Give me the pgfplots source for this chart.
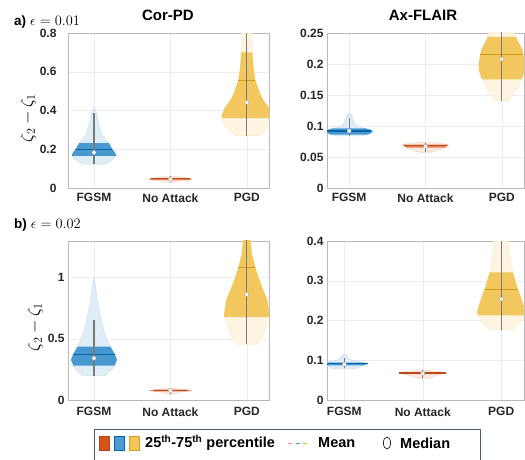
\documentclass[border=0pt]{standalone}
\usepackage{pgfplots}
\pgfplotsset{compat=1.18}
\usepackage{pgfplotstable}
\usepackage{fontspec}
\setmainfont{Liberation Sans}

\definecolor{cBlue}{HTML}{0072BD}
\definecolor{cOrange}{HTML}{D95319}
\definecolor{cYellow}{HTML}{EDB120}
\definecolor{Whisk}{HTML}{7A7A7A}
\definecolor{TickTxt}{HTML}{262626}
\definecolor{LegEdge}{HTML}{4A5A70}

% violin outlines as closed loops: y and offset d from the category centre
% (up the right side, down the left side)
\pgfplotstableread{
y d
0.123 0.15
0.140 0.22
0.160 0.28
0.166 0.285
0.171 0.29
0.185 0.27
0.200 0.24
0.231 0.196
0.255 0.14
0.283 0.096
0.334 0.061
0.385 0.035
0.420 0
0.385 -0.035
0.334 -0.061
0.283 -0.096
0.255 -0.14
0.231 -0.196
0.200 -0.24
0.185 -0.27
0.171 -0.29
0.166 -0.285
0.160 -0.28
0.140 -0.22
0.123 -0.15
0.123 0.15
}\aFgsm
\pgfplotstableread{
y d
0.026 0
0.035 0.12
0.040 0.22
0.043 0.28
0.050 0.25
0.058 0.12
0.063 0
0.058 -0.12
0.050 -0.25
0.043 -0.28
0.040 -0.22
0.035 -0.12
0.026 0
}\aNone
\pgfplotstableread{
y d
0.269 0.16
0.290 0.22
0.317 0.27
0.340 0.31
0.360 0.324
0.368 0.33
0.395 0.31
0.420 0.28
0.450 0.22
0.490 0.17
0.557 0.11
0.625 0.087
0.690 0.074
0.700 0.073
0.760 0.068
0.850 0.065
0.850 -0.065
0.760 -0.068
0.700 -0.073
0.690 -0.074
0.625 -0.087
0.557 -0.11
0.490 -0.17
0.450 -0.22
0.420 -0.28
0.395 -0.31
0.368 -0.33
0.360 -0.324
0.340 -0.31
0.317 -0.27
0.290 -0.22
0.269 -0.16
0.269 0.16
}\aPgd
\pgfplotstableread{
y d
0.084 0.17
0.086 0.23
0.087 0.26
0.091 0.31
0.094 0.28
0.096 0.213
0.097 0.18
0.100 0.10
0.105 0.065
0.110 0.05
0.116 0.04
0.121 0
0.116 -0.04
0.110 -0.05
0.105 -0.065
0.100 -0.10
0.097 -0.18
0.096 -0.213
0.094 -0.28
0.091 -0.31
0.087 -0.26
0.086 -0.23
0.084 -0.17
0.084 0.17
}\cFgsm
\pgfplotstableread{
y d
0.057 0.06
0.060 0.15
0.064 0.24
0.065 0.251
0.0696 0.30
0.070 0.287
0.072 0.22
0.0744 0
0.072 -0.22
0.070 -0.287
0.0696 -0.30
0.065 -0.251
0.064 -0.24
0.060 -0.15
0.057 -0.06
0.057 0.06
}\cNone
\pgfplotstableread{
y d
0.140 0.087
0.150 0.14
0.159 0.19
0.175 0.26
0.190 0.30
0.199 0.305
0.210 0.29
0.223 0.27
0.239 0.20
0.2436 0.1875
0.250 0.17
0.260 0.13
0.260 -0.13
0.250 -0.17
0.2436 -0.1875
0.239 -0.20
0.223 -0.27
0.210 -0.29
0.199 -0.305
0.190 -0.30
0.175 -0.26
0.159 -0.19
0.150 -0.14
0.140 -0.087
0.140 0.087
}\cPgd
\pgfplotstableread{
y d
0.20 0.15
0.268 0.26
0.281 0.269
0.328 0.30
0.377 0.27
0.43 0.22
0.437 0.215
0.54 0.14
0.68 0.087
0.81 0.044
0.95 0.017
1.0 0
0.95 -0.017
0.81 -0.044
0.68 -0.087
0.54 -0.14
0.437 -0.215
0.43 -0.22
0.377 -0.27
0.328 -0.30
0.281 -0.269
0.268 -0.26
0.20 -0.15
0.20 0.15
}\bFgsm
\pgfplotstableread{
y d
0.04 0
0.06 0.10
0.070 0.206
0.077 0.28
0.085 0.20
0.09 0.15
0.098 0
0.09 -0.15
0.085 -0.20
0.077 -0.28
0.070 -0.206
0.06 -0.10
0.04 0
}\bNone
\pgfplotstableread{
y d
0.454 0.14
0.514 0.20
0.596 0.25
0.678 0.294
0.69 0.30
0.814 0.27
0.923 0.20
1.005 0.15
1.087 0.11
1.197 0.065
1.3 0.052
1.4 0.05
1.4 -0.05
1.3 -0.052
1.197 -0.065
1.087 -0.11
1.005 -0.15
0.923 -0.20
0.814 -0.27
0.69 -0.30
0.678 -0.294
0.596 -0.25
0.514 -0.20
0.454 -0.14
0.454 0.14
}\bPgd
\pgfplotstableread{
y d
0.078 0.13
0.085 0.22
0.087 0.247
0.091 0.30
0.094 0.24
0.096 0.20
0.100 0.10
0.105 0.05
0.110 0.04
0.116 0
0.110 -0.04
0.105 -0.05
0.100 -0.10
0.096 -0.20
0.094 -0.24
0.091 -0.30
0.087 -0.247
0.085 -0.22
0.078 -0.13
0.078 0.13
}\dFgsm
\pgfplotstableread{
y d
0.053 0.05
0.058 0.12
0.063 0.2
0.065 0.24
0.068 0.30
0.070 0.25
0.072 0.2
0.0765 0
0.072 -0.2
0.070 -0.25
0.068 -0.30
0.065 -0.24
0.063 -0.2
0.058 -0.12
0.053 -0.05
0.053 0.05
}\dNone
\pgfplotstableread{
y d
0.176 0.15
0.195 0.24
0.213 0.29
0.22 0.31
0.253 0.26
0.286 0.20
0.32 0.15
0.321 0.149
0.353 0.12
0.386 0.096
0.42 0.085
0.42 -0.085
0.386 -0.096
0.353 -0.12
0.321 -0.149
0.32 -0.15
0.286 -0.20
0.253 -0.26
0.22 -0.31
0.213 -0.29
0.195 -0.24
0.176 -0.15
0.176 0.15
}\dPgd

% #1 table, #2 centre, #3 colour, #4 q1, #5 q3 (slightly padded)
\newcommand{\violin}[5]{%
  \addplot[fill=#3!13,draw=#3!28,line width=0.3pt] table[x expr=#2+\thisrow{d},y=y] {#1};
  \addplot[fill=#3!72,draw=none,restrict y to domain=#4:#5,unbounded coords=discard]
    table[x expr=#2+\thisrow{d},y=y] {#1};
}
% #1 centre, #2 colour, #3 mean, #4 mean half width, #5 median, #6 low, #7 high
\newcommand{\vstats}[7]{%
  \pgfmathsetmacro\ml{#1-#4}\pgfmathsetmacro\mr{#1+#4}%
  \addplot[#2!88!black,line width=1.1pt] coordinates {(\ml,#3) (\mr,#3)};
  \addplot[Whisk,line width=1.1pt] coordinates {(#1,#6) (#1,#7)};
  \addplot[only marks,mark=*,mark size=2pt,mark options={fill=white,draw=gray!70,line width=0.4pt}] coordinates {(#1,#5)};
}

\pgfplotsset{vio/.style={
  scale only axis,
  axis line style={draw=gray!55},
  xmajorgrids,ymajorgrids,
  grid style={gray!14,line width=0.4pt},
  tick style={draw=none},
  xtick={1,2,3},xticklabels={FGSM,No Attack,PGD},
  tick label style={font=\bfseries\fontsize{12}{12}\selectfont,text=TickTxt},
  /pgf/number format/assume math mode=true,
  yticklabel style={/pgf/number format/fixed,/pgf/number format/precision=2},
  xticklabel style={yshift=-2pt},
  ymin=0}}

\begin{document}
\begin{tikzpicture}
\useasboundingbox (0pt,0pt) rectangle (525pt,460pt);

\begin{axis}[vio,at={(68pt,272pt)},anchor=south west,width=201pt,height=155pt,
  xmin=0.66,xmax=3.29,ymax=0.8,ytick={0,0.2,0.4,0.6,0.8},
  yticklabel style={xshift=-8pt}]
  \violin{\aFgsm}{1}{cBlue}{0.1659}{0.2311}
  \violin{\aNone}{2}{cOrange}{0.0399}{0.0501}
  \violin{\aPgd}{3}{cYellow}{0.3599}{0.7001}
  \vstats{1}{cBlue}{0.200}{0.24}{0.183}{0.123}{0.385}
  \vstats{2}{cOrange}{0.047}{0.26}{0.045}{0.030}{0.060}
  \vstats{3}{cYellow}{0.553}{0.11}{0.442}{0.269}{0.90}
\end{axis}

\begin{axis}[vio,at={(327pt,272pt)},anchor=south west,width=197pt,height=155pt,
  xmin=0.71,xmax=3.29,ymax=0.25,ytick={0,0.05,0.1,0.15,0.2,0.25}]
  \violin{\cFgsm}{1}{cBlue}{0.08599}{0.09601}
  \violin{\cNone}{2}{cOrange}{0.06499}{0.07001}
  \violin{\cPgd}{3}{cYellow}{0.17499}{0.24361}
  \vstats{1}{cBlue}{0.092}{0.29}{0.092}{0.084}{0.113}
  \vstats{2}{cOrange}{0.068}{0.28}{0.067}{0.058}{0.073}
  \vstats{3}{cYellow}{0.215}{0.28}{0.208}{0.140}{0.26}
\end{axis}

\begin{axis}[vio,at={(68pt,60pt)},anchor=south west,width=201pt,height=159pt,
  xmin=0.66,xmax=3.29,ymax=1.3,ytick={0,0.5,1},xticklabel style={yshift=-2pt}]
  \violin{\bFgsm}{1}{cBlue}{0.2809}{0.4371}
  \violin{\bNone}{2}{cOrange}{0.0699}{0.0851}
  \violin{\bPgd}{3}{cYellow}{0.6779}{1.41}
  \vstats{1}{cBlue}{0.372}{0.27}{0.342}{0.20}{0.65}
  \vstats{2}{cOrange}{0.080}{0.22}{0.077}{0.05}{0.095}
  \vstats{3}{cYellow}{1.08}{0.11}{0.863}{0.454}{1.4}
\end{axis}

\begin{axis}[vio,at={(327pt,60pt)},anchor=south west,width=197pt,height=159pt,
  xmin=0.78,xmax=3.29,ymax=0.4,ytick={0,0.1,0.2,0.3,0.4},xticklabel style={yshift=-2pt}]
  \violin{\dFgsm}{1}{cBlue}{0.087}{0.094}
  \violin{\dNone}{2}{cOrange}{0.06499}{0.07001}
  \violin{\dPgd}{3}{cYellow}{0.2129}{0.3211}
  \vstats{1}{cBlue}{0.091}{0.30}{0.090}{0.080}{0.105}
  \vstats{2}{cOrange}{0.068}{0.30}{0.067}{0.055}{0.075}
  \vstats{3}{cYellow}{0.278}{0.21}{0.254}{0.176}{0.42}
\end{axis}

% titles and panel labels
\node[font=\bfseries\fontsize{15}{15}\selectfont] at (168pt,445pt) {Cor-PD};
\node[font=\bfseries\fontsize{15}{15}\selectfont] at (423pt,445pt) {Ax-FLAIR};
\node[anchor=west,inner sep=0] at (14pt,438pt) {\bfseries\fontsize{13.5}{13.5}\selectfont a)\fontsize{14.5}{14.5}\selectfont\ $\epsilon=0.01$};
\node[anchor=west,inner sep=0] at (14pt,235pt) {\bfseries\fontsize{13.5}{13.5}\selectfont b)\fontsize{14.5}{14.5}\selectfont\ $\epsilon=0.02$};
\node[rotate=90,font=\fontsize{18}{18}\selectfont] at (28pt,342pt) {$\zeta_2-\zeta_1$};
\node[rotate=90,font=\fontsize{18}{18}\selectfont] at (35pt,133pt) {$\zeta_2-\zeta_1$};

% legend
\draw[LegEdge,line width=0.8pt,fill=white] (94pt,31pt) rectangle (480pt,-10pt);
\draw[cOrange!80!black,line width=0.4pt,fill=cOrange] (99.5pt,10pt) rectangle (109.5pt,24pt);
\draw[cBlue!90!black,line width=0.4pt,fill=cBlue!70] (114.5pt,10pt) rectangle (124.5pt,24pt);
\draw[cYellow!90!black,line width=0.4pt,fill=cYellow!75] (129.5pt,10pt) rectangle (139.5pt,24pt);
\node[anchor=west,inner sep=0,font=\bfseries\fontsize{14.5}{14.5}\selectfont] at (145pt,17pt)
  {25\textsuperscript{th}-75\textsuperscript{th} percentile};
\draw[red!45,line width=0.8pt] (288pt,17pt) -- (292pt,17pt);
\draw[cBlue!70,line width=0.8pt] (295.5pt,17pt) -- (299.5pt,17pt);
\draw[cYellow,line width=0.8pt] (303pt,17pt) -- (307pt,17pt);
\node[anchor=west,inner sep=0,font=\bfseries\fontsize{14.5}{14.5}\selectfont] at (318pt,17pt) {Mean};
\draw[black,line width=0.6pt] (387pt,17pt) ellipse (3.6pt and 6pt);
\node[anchor=west,inner sep=0,font=\bfseries\fontsize{14.5}{14.5}\selectfont] at (400pt,17pt) {Median};
\end{tikzpicture}
\end{document}
